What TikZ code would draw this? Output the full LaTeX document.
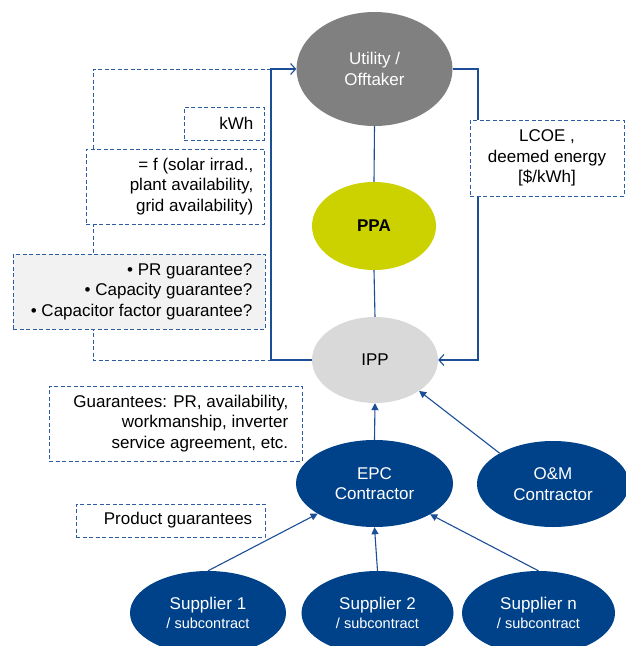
\documentclass[tikz,border=0pt]{standalone}
\usepackage{fontspec}
\setmainfont{Liberation Sans}
\usetikzlibrary{shapes.geometric,arrows.meta}
\definecolor{dblue}{RGB}{0,66,138}
\definecolor{lblue}{RGB}{28,78,152}
\definecolor{dashblue}{RGB}{46,92,162}
\definecolor{utilgray}{RGB}{128,128,128}
\definecolor{ippgray}{RGB}{217,217,217}
\definecolor{ppagreen}{RGB}{204,209,0}
\definecolor{prfill}{RGB}{242,242,242}
\tikzset{
  ell/.style={ellipse, inner sep=0pt, align=center, font=\fontsize{17}{20.5}\selectfont},
  bluenode/.style={ell, fill=dblue, text=white},
  dashline/.style={draw=dashblue, dash pattern=on 4pt off 2.5pt, line width=0.9pt},
  dbox/.style={dashline, fill=white, inner sep=0pt},
  lbl/.style={align=right, inner sep=0pt, font=\fontsize{17}{20.5}\selectfont},
  conn/.style={draw=lblue, line width=1.1pt},
  tri/.style={conn, -{Triangle[length=7pt,width=7pt]}},
  barb/.style={conn, -{Straight Barb[length=5pt,width=11pt]}},
}
\begin{document}
\begin{tikzpicture}[x=1pt,y=1pt]
\clip (0,0) rectangle (626,-646);
\fill[white] (0,0) rectangle (626,-646);

% ellipses
\node[ell, fill=utilgray, text=white, minimum width=156pt, minimum height=114pt] (util) at (374.5,-69) {Utility /\\Offtaker};
\node[ell, fill=ppagreen, minimum width=124pt, minimum height=88pt, font=\fontsize{17}{20.5}\selectfont\bfseries] (ppa) at (374,-226) {PPA};
\node[ell, fill=ippgray, minimum width=126pt, minimum height=86pt] (ipp) at (375,-360) {IPP};
\node[bluenode, minimum width=157pt, minimum height=87pt] (epc) at (374.5,-483.5) {EPC\\Contractor};
\node[bluenode, minimum width=152pt, minimum height=86pt] (om) at (553,-484) {O\&M\\Contractor};
\node[bluenode, minimum width=156pt, minimum height=84pt] (s1) at (208,-613) {Supplier 1\\[-1pt]{\fontsize{14.5}{17}\selectfont / subcontract}};
\node[bluenode, minimum width=152pt, minimum height=84pt] (s2) at (377.5,-613) {Supplier 2\\[-1pt]{\fontsize{14.5}{17}\selectfont / subcontract}};
\node[bluenode, minimum width=153pt, minimum height=84pt] (sn) at (538.5,-613) {Supplier n\\[-1pt]{\fontsize{14.5}{17}\selectfont / subcontract}};

% corner coordinates
\coordinate (lt) at (271,-69);
\coordinate (lb) at (271,-360);
\coordinate (dt) at (93,-69);
\coordinate (db) at (93,-360);
\coordinate (rt) at (478,-69);
\coordinate (rb) at (478,-360);

% dashed loop
\draw[dashline] (lt) -- (dt) -- (db) -- (lb);

% solid connectors
\draw[conn] (util.south) -- (ppa.north);
\draw[conn] (ppa.south) -- (ipp.north);
\draw[barb] (ipp.west) -- (lb) -- (lt) -- (util.west);
\draw[barb] (util.east) -- (rt) -- (rb) -- (ipp.east);
\draw[tri] (epc.north) -- (ipp.south);
\draw[tri] (om.150) -- (ipp.-35);
\draw[tri] (s1.north) -- (epc.-152);
\draw[tri] (s2.north) -- (epc.south);
\draw[tri] (sn.north) -- (epc.-29);

% dashed boxes
\node[dbox, minimum width=80pt, minimum height=33pt] (kwh) at (224,-123.5) {};
\node[lbl, anchor=east] (kwht) at ([xshift=-11pt]kwh.east) {kWh};

\node[dbox, minimum width=178pt, minimum height=75pt] (fbox) at (175,-186.5) {};
\node[lbl, anchor=east] (fboxt) at ([xshift=-11pt]fbox.east) {= f (solar irrad.,\\plant availability,\\grid availability)};

\node[dbox, fill=prfill, minimum width=252pt, minimum height=75pt] (pr) at (139,-291.5) {};
\node[lbl, anchor=east] (prt) at ([xshift=-13pt]pr.east) {• PR guarantee?\\• Capacity guarantee?\\• Capacitor factor guarantee?};

\node[dbox, minimum width=154pt, minimum height=76pt] (lcoe) at (547,-158) {};
\node[lbl, align=center] (lcoet) at (lcoe.center) {LCOE ,\\deemed energy\\{[\$/kWh]}};

\node[dbox, minimum width=253pt, minimum height=75pt] (guar) at (175.5,-423.5) {};
\node[lbl, anchor=east] (guart) at ([xshift=-14pt]guar.east) {Guarantees: PR, availability,\\workmanship, inverter\\service agreement, etc.};

\node[dbox, minimum width=189pt, minimum height=33pt] (prod) at (170.5,-520.5) {};
\node[lbl, anchor=east] (prodt) at ([xshift=-13pt]prod.east) {Product guarantees};
\end{tikzpicture}
\end{document}
